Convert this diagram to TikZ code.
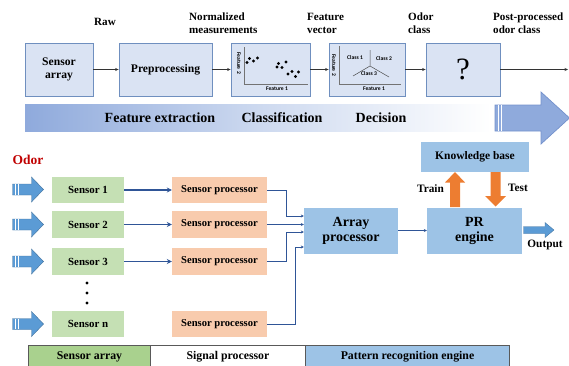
\documentclass[tikz,border=0pt]{standalone}
\usepackage{fontspec}
\setmainfont{Liberation Serif}
\newfontfamily\plotfont{Carlito}
\usetikzlibrary{arrows.meta,calc}

\definecolor{topfill}{HTML}{DAE3F3}
\definecolor{topline}{HTML}{6F8FBF}
\definecolor{barblue}{HTML}{8FAADC}
\definecolor{bigline}{HTML}{7391CC}
\definecolor{sensgreen}{HTML}{C5E0B4}
\definecolor{procorange}{HTML}{F8CBAD}
\definecolor{prblue}{HTML}{9DC3E6}
\definecolor{linkblue}{HTML}{2F5597}
\definecolor{inblue}{HTML}{5B9BD5}
\definecolor{inline}{HTML}{41719C}
\definecolor{trainorange}{HTML}{ED7D31}
\definecolor{odorred}{HTML}{C00000}
\definecolor{legendgreen}{HTML}{A9D18E}
\definecolor{legendline}{HTML}{595959}

\tikzset{
  topbox/.style={draw=topline, line width=0.8pt, fill=topfill, inner sep=0pt,
    minimum height=53, font=\bfseries\fontsize{11.6}{13}\selectfont, align=center},
  toplabel/.style={anchor=west, align=left, inner sep=0pt,
    font=\bfseries\fontsize{11.1}{13}\selectfont},
  flowarrow/.style={draw=black!80, line width=0.6pt, -{Stealth[length=3.5pt,width=3pt]}},
  sensbox/.style={fill=sensgreen, minimum width=72, minimum height=26.5, inner sep=0pt,
    font=\bfseries\fontsize{10.9}{12}\selectfont},
  procbox/.style={fill=procorange, minimum width=95, minimum height=26.5, inner sep=0pt,
    font=\bfseries\fontsize{10.6}{12}\selectfont},
  prbox/.style={fill=prblue, inner sep=0pt, align=center},
  sensarrow/.style={draw=linkblue, line width=1.3pt, -{Stealth[length=5pt,width=5pt]}},
  link/.style={draw=linkblue, line width=0.8pt, -{Stealth[length=3pt,width=3pt]}},
  tiny/.style={inner sep=0pt, font=\plotfont\bfseries\fontsize{5.6}{6}\selectfont},
  phase/.style={inner sep=0pt, font=\bfseries\fontsize{14}{15}\selectfont},
  legend/.style={draw=legendline, line width=1pt, inner sep=0pt, minimum height=22,
    font=\bfseries\fontsize{11.8}{12}\selectfont},
  sidelabel/.style={inner sep=0pt, font=\bfseries\fontsize{11.3}{12}\selectfont},
  dot/.style={fill=black, draw=none},
}

\begin{document}
\begin{tikzpicture}[x=1pt, y=-1pt]
\useasboundingbox (0,0) rectangle (569,365);

% ---------- processing chain ----------
\node[topbox, minimum width=68] (sa)  at (59,69.5)    {Sensor\\array};
\node[topbox, minimum width=93] (pre) at (165.5,69.5) {Preprocessing};
\node[topbox, minimum width=79] (pa)  at (270.5,69.5) {};
\node[topbox, minimum width=76] (pb)  at (367,69.5)   {};
\node[topbox, minimum width=74, font=\fontsize{31}{31}\selectfont] (oc) at (463,69.5) {?};
\coordinate (post) at (568,69.5);

\draw[flowarrow] (sa) -- (pre);
\draw[flowarrow] (pre) -- (pa);
\draw[flowarrow] (pa) -- (pb);
\draw[flowarrow] (pb) -- (oc);
\draw[flowarrow] (oc) -- (post);

\node[toplabel] (lraw)  at (94,22)  {Raw};
\node[toplabel] (lnorm) at (189,23.5) {Normalized\\measurements};
\node[toplabel] (lvec)  at (307,23.5) {Feature\\vector};
\node[toplabel] (lodor) at (408,23.5) {Odor\\class};
\node[toplabel] (lpost) at (493,23.5) {Post-processed\\odor class};

% scatter plot of measurements
\draw[black!55, line width=0.5pt] (244.5,47) -- (244.5,84.5) -- (308,84.5);
\node[tiny, rotate=-90] (pa2) at (239,63) {Feature 2};
\node[tiny] (pa1) at (277,89) {Feature 1};
\foreach \px/\py in {247/62.5,249.5/58.5,253.5/61,257.5/58,
                     277/67,278.5/63.5,282/67.5,286/62,
                     288/74,292/71.5,295.5/76.5,298.5/72}
  \fill[dot] (\px,\py) circle (1.6);

% class regions in feature space
\draw[black!55, line width=0.5pt] (339.5,46) -- (339.5,84) -- (401,84);
\node[tiny, rotate=-90] (pb2) at (334,65) {Feature 2};
\node[tiny] (pb1) at (374,88.5) {Feature 1};
\draw[black!70, line width=0.5pt] (370,66) -- (370,50)
      (370,66) -- (353,76) (370,66) -- (389,77);
\node[tiny] (c1) at (355,58) {Class 1};
\node[tiny] (c2) at (384,59) {Class 2};
\node[tiny] (c3) at (369,74) {Class 3};

% ---------- stage bar ----------
\shade[left color=barblue, right color=white, middle color=barblue!45]
  (25,104.5) rectangle (491,131);
\node[phase] (fe) at (160,118) {Feature extraction};
\node[phase] (cl) at (282,118) {Classification};
\node[phase] (de) at (381,118) {Decision};

\filldraw[fill=barblue, draw=bigline, line width=0.7pt]
  (495,105) -- (541,105) -- (541,92) -- (569.5,118) -- (541,144)
  -- (541,131) -- (495,131) -- cycle;
\draw[white, line width=0.9pt] (498,105.4) -- (498,130.6) (501,105.4) -- (501,130.6);

% ---------- sensing section ----------
\node[inner sep=0pt, text=odorred, font=\bfseries\fontsize{13.5}{14}\selectfont] (odor) at (28,160) {Odor};

\node[sensbox] (s1) at (88,190)   {Sensor 1};
\node[sensbox] (s2) at (88,224.5) {Sensor 2};
\node[sensbox] (s3) at (88,261.5) {Sensor 3};
\node[sensbox] (sn) at (88,324)   {Sensor n};

\foreach \yy in {283,293,303} \fill[dot] (87,\yy) circle (1.7);

% incoming odor arrows
\foreach \cy in {189.5,224.5,261.5,324} {
  \filldraw[fill=inblue, draw=inline, line width=0.4pt]
    (12.5,\cy-5.5) -- (31.5,\cy-5.5) -- (31.5,\cy-12.5) -- (43.5,\cy)
    -- (31.5,\cy+12.5) -- (31.5,\cy+5.5) -- (12.5,\cy+5.5) -- cycle;
  \draw[white, line width=0.6pt] (15.3,\cy-5.2) -- (15.3,\cy+5.2)
                                 (17.9,\cy-5.2) -- (17.9,\cy+5.2);
}

\node[procbox] (p1) at (219.5,190)   {Sensor processor};
\node[procbox] (p2) at (219.5,224.5) {Sensor processor};
\node[procbox] (p3) at (219.5,261.5) {Sensor processor};
\node[procbox] (pn) at (219.5,324)   {Sensor processor};

\draw[sensarrow] (s1) -- (p1);
\draw[sensarrow, line width=1pt] (s2) -- (p2);
\draw[sensarrow, line width=1pt] (s3) -- (p3);

\node[prbox, minimum width=94, minimum height=46, font=\bfseries\fontsize{14}{15}\selectfont]
  (ap) at (351,230.5) {Array\\processor};
\node[prbox, minimum width=95, minimum height=46, font=\bfseries\fontsize{14}{15}\selectfont]
  (pr) at (474.5,230.5) {PR\\engine};
\node[prbox, minimum width=108, minimum height=30, font=\bfseries\fontsize{11.5}{12}\selectfont]
  (kb) at (475,157) {Knowledge base};

\draw[link] (p1.east) -- (286,190) |- ($(ap.west)+(0,-14.5)$);
\draw[link] (p2.east) -- ($(ap.west)+(0,-6)$);
\draw[link] (p3.east) -- (286,261.5) |- ($(ap.west)+(0,1.5)$);
\draw[link] (pn.east) -- (295,324) |- ($(ap.west)+(0,16.5)$);
\draw[link] (ap) -- (pr);

% train / test exchange with the knowledge base
\filldraw[fill=trainorange, draw=none]
  (450,207) -- (450,182.5) -- (445,182.5) -- (455,172) -- (465,182.5)
  -- (460,182.5) -- (460,207) -- cycle;
\filldraw[fill=trainorange, draw=none]
  (490.5,172) -- (500.5,172) -- (500.5,196) -- (506,196) -- (495.5,206.5)
  -- (485,196) -- (490.5,196) -- cycle;
\node[sidelabel] (train) at (430.5,189) {Train};
\node[sidelabel] (test)  at (518,188) {Test};

% output arrow
\filldraw[fill=inblue, draw=inline, line width=0.3pt]
  (523.5,226.5) -- (545,226.5) -- (545,222.5) -- (554,230) -- (545,237.5)
  -- (545,233.5) -- (523.5,233.5) -- cycle;
\node[sidelabel] (out) at (545,245) {Output};

% ---------- legend strip ----------
\node[legend, fill=legendgreen, minimum width=122, anchor=north west] (lg1) at (28,345) {Sensor array};
\node[legend, fill=white, minimum width=155, anchor=north west] (lg2) at (150,345) {Signal processor};
\node[legend, fill=prblue, minimum width=204, anchor=north west] (lg3) at (305,345) {Pattern recognition engine};
\end{tikzpicture}
\end{document}
